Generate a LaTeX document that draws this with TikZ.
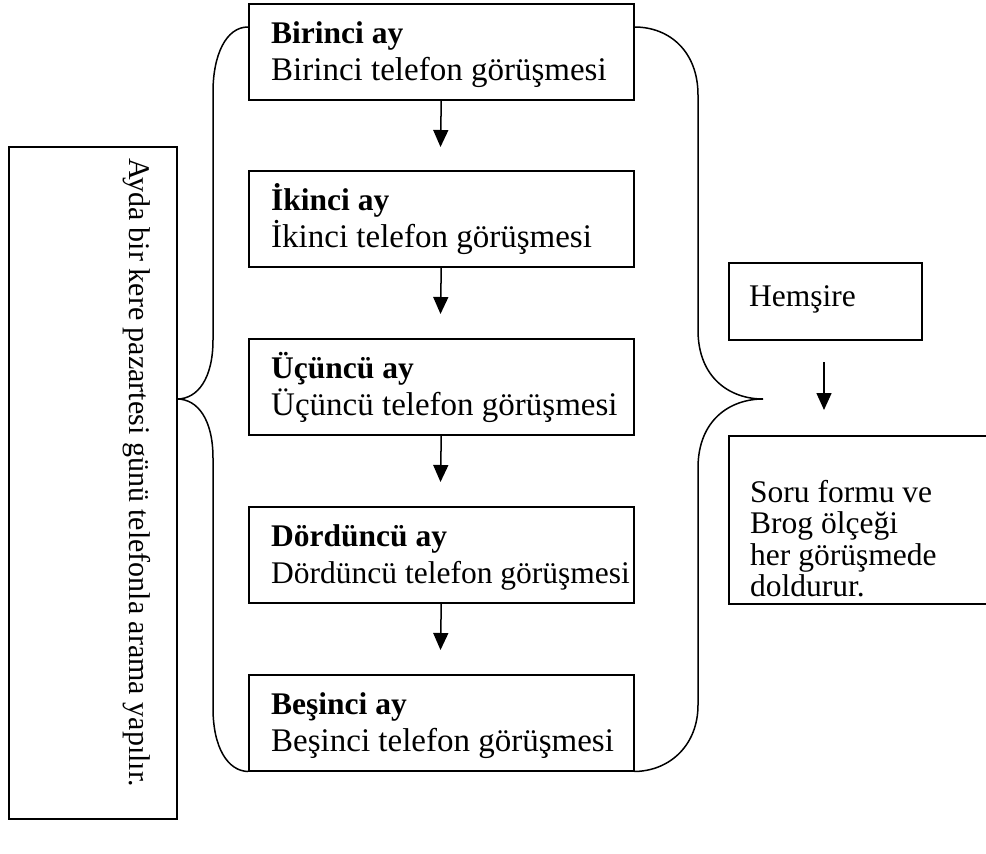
\documentclass[tikz,border=0pt]{standalone}
\usepackage{fontspec}
\setmainfont{Liberation Serif}
\usetikzlibrary{arrows.meta}
\begin{document}
\begin{tikzpicture}[x=1pt,y=-1pt,
  box/.style={draw,line width=1.5pt,rectangle,inner sep=0pt,anchor=north west},
  mbox/.style={box,minimum width=385pt,minimum height=96pt},
  txt/.style={anchor=base west,inner sep=0pt,font=\fontsize{33}{36}\selectfont},
  btxt/.style={txt,font=\fontsize{31.5}{36}\selectfont\bfseries},
  dtxt/.style={txt,font=\fontsize{31.5}{36}\selectfont},
  rtxt/.style={txt,font=\fontsize{31.5}{36}\selectfont},
  vtxt/.style={txt,font=\fontsize{30}{36}\selectfont,rotate=-90},
  arr/.style={line width=1.5pt,-{Triangle[width=15pt,length=17pt]}},
  brace/.style={line width=1.5pt}]
\path[use as bounding box,clip] (0,0) rectangle (986,854);
% month boxes
\node[mbox] (b1) at (248,3) {};
\node[mbox] (b2) at (248,170) {};
\node[mbox] (b3) at (248,338) {};
\node[mbox] (b4) at (248,506) {};
\node[mbox] (b5) at (248,674) {};
% texts
\node[btxt] (t1a) at (271,43) {Birinci ay};
\node[txt] (t1b) at (271,80.5) {Birinci telefon görüşmesi};
\node[btxt] (t2a) at (271,210) {İkinci ay};
\node[txt] (t2b) at (271,247.5) {İkinci telefon görüşmesi};
\node[btxt] (t3a) at (271,378) {Üçüncü ay};
\node[txt] (t3b) at (271,415.5) {Üçüncü telefon görüşmesi};
\node[btxt] (t4a) at (271,546) {Dördüncü ay};
\node[dtxt] (t4b) at (271,583.5) {Dördüncü telefon görüşmesi};
\node[btxt] (t5a) at (271,714) {Beşinci ay};
\node[txt] (t5b) at (271,751.5) {Beşinci telefon görüşmesi};
% arrows between boxes
\coordinate (e1) at (440.5,147);
\coordinate (e2) at (440.5,314);
\coordinate (e3) at (440.5,482);
\coordinate (e4) at (440.5,650);
\draw[arr] (b1.south) -- (e1);
\draw[arr] (b2.south) -- (e2);
\draw[arr] (b3.south) -- (e3);
\draw[arr] (b4.south) -- (e4);
% left box with vertical text
\node[box,minimum width=168pt,minimum height=672pt] (lb) at (8,146) {};
\node[vtxt] (lt) at (129,158) {Ayda bir kere pazartesi günü telefonla arama yapılır.};
% left brace
\draw[brace] (b1.north west |- 0,27) .. controls (226,27) and (213,55) .. (213,92)
  -- (213,340) .. controls (213,378) and (198,399) .. (177,399)
  .. controls (198,399) and (213,420) .. (213,458)
  -- (213,708) .. controls (213,748) and (228,771) .. (b5.south west);
% right brace
\draw[brace] (b1.north east |- 0,27) .. controls (670,27) and (698,52) .. (698,95)
  -- (698,330) .. controls (698,378) and (730,399) .. (763,399)
  .. controls (730,399) and (698,420) .. (698,468)
  -- (698,705) .. controls (698,745) and (670,771) .. (b5.south east);
% right side
\node[box,minimum width=193pt,minimum height=77pt] (h) at (728,262) {};
\node[rtxt] (ht) at (749,306) {Hemşire};
\coordinate (hs) at (824,362);
\coordinate (he) at (824,410);
\draw[arr] (hs) -- (he);
\node[box,minimum width=300pt,minimum height=168pt] (s) at (728,435) {};
\node[rtxt] (s1) at (750,502) {Soru formu ve};
\node[rtxt] (s2) at (750,533.5) {Brog ölçeği};
\node[rtxt] (s3) at (750,565) {her görüşmede};
\node[rtxt] (s4) at (750,596.5) {doldurur.};
\end{tikzpicture}
\end{document}
